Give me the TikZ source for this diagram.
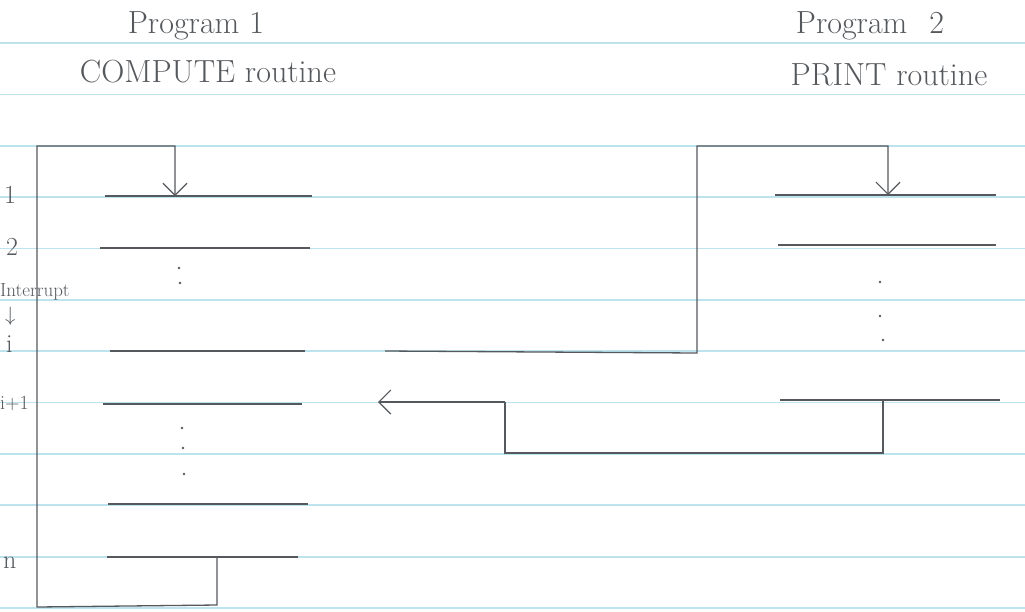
\documentclass[tikz,border=0pt]{standalone}
\usepackage{fontspec}
\usetikzlibrary{arrows.meta}
\definecolor{rulecol}{HTML}{BDE3EF}
\definecolor{ink}{HTML}{55595D}
\begin{document}
\begin{tikzpicture}[x=1pt,y=-1pt,
  ruled/.style={rulecol, line width=1.4pt},
  instr/.style={ink, line width=1.8pt},
  link/.style={ink, line width=1.3pt},
  tip/.style={-{Straight Barb[length=12pt,width=24pt,line width=1.2pt]}},
  title/.style={ink, font=\fontsize{32}{36}\selectfont, inner sep=0pt},
  lab/.style={ink, font=\fontsize{26}{28}\selectfont, inner sep=0pt},
  dotmark/.style={ink, circle, fill, inner sep=0pt, minimum size=2.6pt}]
\useasboundingbox[fill=white] (0,0) rectangle (1025,611);
\foreach \y in {43,94.5,146,197,248.5,300,351,402.5,454,505,557,608}
  \draw[ruled] (0,\y) -- (1025,\y);

% titles
\node[title] (p1) at (196,26) {Program\hspace{10pt}1};
\node[title] (c1) at (208,72) {COMPUTE routine};
\node[title] (p2) at (870,26) {Program\hspace{22pt}2};
\node[title] (c2) at (889,75) {PRINT routine};

% left labels
\node[lab, anchor=west] (l1) at (4,195) {1};
\node[lab, anchor=west] (l2) at (6,247) {2};
\node[lab, anchor=west, font=\fontsize{19}{20}\selectfont] (lint) at (0,292) {Interrupt};
\node[lab, anchor=west, font=\fontsize{20}{22}\selectfont] (larr) at (5,316) {$\downarrow$};
\node[lab, anchor=west] (li) at (6,344) {i};
\node[lab, anchor=west, font=\fontsize{20}{22}\selectfont] (li1) at (0,404) {i+1};
\node[lab, anchor=west] (ln) at (3,563) {n};

% program 1 instruction lines
\draw[instr] (105,196) -- (312,196);
\draw[instr] (100,248) -- (310,248);
\draw[instr] (110,351) -- (305,351);
\draw[instr] (103,404) -- (302,404);
\draw[instr] (108,504) -- (308,504);
\draw[instr] (107,557) -- (298,557);
\node[dotmark] (d1) at (179,268) {};
\node[dotmark] (d2) at (180,283) {};
\node[dotmark] (d3) at (182,428) {};
\node[dotmark] (d4) at (183,448) {};
\node[dotmark] (d5) at (184,474) {};

% program 2 instruction lines
\draw[instr] (775,195) -- (996,195);
\draw[instr] (778,245) -- (996,245);
\draw[instr] (780,400) -- (1000,400);
\node[dotmark] (e1) at (880,282) {};
\node[dotmark] (e2) at (880,316) {};
\node[dotmark] (e3) at (883,340) {};

% connectors
\coordinate (nout) at (217,557);
\coordinate (oneIn) at (175,196);
\draw[link,tip] (nout) -- (217,605) -- (37,607) -- (37,146) -- (175,146) -- (oneIn);

\coordinate (iout) at (385,351);
\coordinate (pOneIn) at (888,195);
\draw[link,tip] (iout) -- (697,353) -- (697,146) -- (888,146) -- (pOneIn);

\coordinate (pEnd) at (883,401);
\coordinate (back) at (378,402);
\draw[link] (pEnd) -- (883,453) -- (505,453) -- (505,402);
\draw[instr,tip] (505,402) -- (back);
\end{tikzpicture}
\end{document}
